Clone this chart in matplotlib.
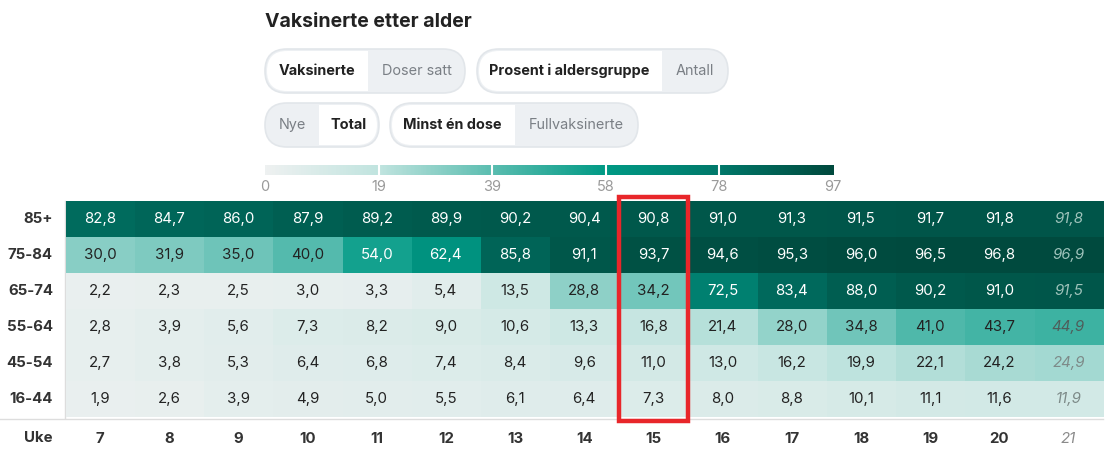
import numpy as np
import matplotlib.pyplot as plt
from matplotlib.colors import LinearSegmentedColormap
from matplotlib.patches import FancyBboxPatch, Rectangle

plt.rcParams['font.family'] = ['Inter', 'DejaVu Sans']

weeks = [7, 8, 9, 10, 11, 12, 13, 14, 15, 16, 17, 18, 19, 20, 21]
ages = ['85+', '75-84', '65-74', '55-64', '45-54', '16-44']
v_85 = [82.8, 84.7, 86.0, 87.9, 89.2, 89.9, 90.2, 90.4, 90.8, 91.0, 91.3, 91.5, 91.7, 91.8, 91.8]
v_75 = [30.0, 31.9, 35.0, 40.0, 54.0, 62.4, 85.8, 91.1, 93.7, 94.6, 95.3, 96.0, 96.5, 96.8, 96.9]
v_65 = [2.2, 2.3, 2.5, 3.0, 3.3, 5.4, 13.5, 28.8, 34.2, 72.5, 83.4, 88.0, 90.2, 91.0, 91.5]
v_55 = [2.8, 3.9, 5.6, 7.3, 8.2, 9.0, 10.6, 13.3, 16.8, 21.4, 28.0, 34.8, 41.0, 43.7, 44.9]
v_45 = [2.7, 3.8, 5.3, 6.4, 6.8, 7.4, 8.4, 9.6, 11.0, 13.0, 16.2, 19.9, 22.1, 24.2, 24.9]
v_16 = [1.9, 2.6, 3.9, 4.9, 5.0, 5.5, 6.1, 6.4, 7.3, 8.0, 8.8, 10.1, 11.1, 11.6, 11.9]
scale_ticks = [0, 19, 39, 58, 78, 97]
highlight_week = 15

vals = np.array([v_85, v_75, v_65, v_55, v_45, v_16])
vmax = 97

cmap = LinearSegmentedColormap.from_list('teal', [
    (0.0, '#eef1f1'), (0.2, '#c0e4df'), (0.4, '#5abdb0'),
    (0.6, '#009a85'), (0.8, '#00786a'), (1.0, '#004a3e')])

fig = plt.figure(figsize=(11.16, 4.55), dpi=100)

# background axes in pixel coordinates for the UI parts
bg = fig.add_axes([0, 0, 1, 1])
bg.set_xlim(0, 1116)
bg.set_ylim(455, 0)
bg.axis('off')

bg.text(265, 22, 'Vaksinerte etter alder', fontsize=14, fontweight='bold',
        color='#222222', va='center', ha='left')


def pill(x0, x1, y0, y1, split, sel_left, left_txt, right_txt):
    h = y1 - y0
    outer = FancyBboxPatch((x0, y0), x1 - x0, h,
                           boxstyle='round,pad=0,rounding_size=%g' % (h / 2),
                           fc='#edf0f3', ec='#e2e6ea', lw=1.2)
    bg.add_patch(outer)
    inner = FancyBboxPatch((x0 + 2, y0 + 2), x1 - x0 - 4, h - 4,
                           boxstyle='round,pad=0,rounding_size=%g' % (h / 2 - 2),
                           fc='white', ec='none')
    bg.add_patch(inner)
    if sel_left:
        clip = Rectangle((x0, y0), split - x0, h, transform=bg.transData)
    else:
        clip = Rectangle((split, y0), x1 - split, h, transform=bg.transData)
    inner.set_clip_path(clip)
    yc = (y0 + y1) / 2
    lc = (x0 + split) / 2
    rc = (split + x1) / 2
    bg.text(lc, yc, left_txt, ha='center', va='center', fontsize=10.4,
            fontweight='bold' if sel_left else 'normal',
            color='#222222' if sel_left else '#7a7f85')
    bg.text(rc, yc, right_txt, ha='center', va='center', fontsize=10.4,
            fontweight='normal' if sel_left else 'bold',
            color='#7a7f85' if sel_left else '#222222')


pill(265, 465, 49, 93, 368, True, 'Vaksinerte', 'Doser satt')
pill(477, 728, 49, 93, 662, True, 'Prosent i aldersgruppe', 'Antall')
pill(265, 379, 103, 147, 319, False, 'Nye', 'Total')
pill(390, 638, 103, 147, 515, True, 'Minst én dose', 'Fullvaksinerte')

# colour scale
cax = fig.add_axes([265 / 1116, 1 - 175 / 455, (833 - 265) / 1116, 10 / 455])
grad = np.linspace(0, vmax, 400).reshape(1, -1)
cax.imshow(grad, aspect='auto', cmap=cmap, vmin=0, vmax=vmax,
           extent=[0, vmax, 0, 1])
for k in range(1, 5):
    cax.axvline(vmax * k / 5, color='white', lw=1.5)
cax.set_xlim(0, vmax)
cax.axis('off')
for k, t in enumerate(scale_ticks):
    bg.text(265 + (833 - 265) * k / 5, 187, str(t), ha='center', va='center',
            fontsize=10.5, color='#9a9a9a')

# heatmap
ax = fig.add_axes([65.5 / 1116, 1 - 417 / 455, (1103 - 65.5) / 1116, 216 / 455])
ax.imshow(vals, cmap=cmap, vmin=0, vmax=vmax, aspect='auto')
ax.set_xticks([])
ax.set_yticks([])
for s in ax.spines.values():
    s.set_visible(False)
ax.set_xlim(-0.5, len(weeks) - 0.5)
ax.set_ylim(len(ages) - 0.5, -0.5)

for i, age in enumerate(ages):
    for j, w in enumerate(weeks):
        v = vals[i, j]
        txt = ('%.1f' % v).replace('.', ',')
        dark = v > 50
        if w == weeks[-1]:
            ax.text(j, i, txt, ha='center', va='center', fontsize=10.8,
                    style='italic',
                    color='#9fc3bb' if dark else ('#4e5d5a' if v > 30 else '#7d8a88'))
        else:
            ax.text(j, i, txt, ha='center', va='center', fontsize=10.8,
                    color='white' if dark else '#222222')

# row and column labels
for i, age in enumerate(ages):
    bg.text(53, 201 + 36 * i + 18, age, ha='right', va='center', fontsize=10.8,
            fontweight='bold', color='#333333')
bg.text(53, 438, 'Uke', ha='right', va='center', fontsize=10.8,
        fontweight='bold', color='#333333')
for j, w in enumerate(weeks):
    if w == weeks[-1]:
        ax.text(j, len(ages) - 0.5 + 0.6, str(w), ha='center', va='center',
                fontsize=10.8, style='italic', color='#8a8a8a', clip_on=False)
    else:
        ax.text(j, len(ages) - 0.5 + 0.6, str(w), ha='center', va='center',
                fontsize=10.8, fontweight='bold', color='#333333', clip_on=False)

bg.plot([64.5, 64.5], [201, 418], color='#dddddd', lw=1)
bg.plot([0, 1103], [418.5, 418.5], color='#dddddd', lw=1)

# highlighted week
hj = weeks.index(highlight_week)
ax.add_patch(Rectangle((hj - 0.5, -0.6), 1.0, len(ages) + 0.2, fill=False,
                       ec='#e8262a', lw=3.2, clip_on=False, zorder=5))

fig.savefig('out.png', dpi=100)
